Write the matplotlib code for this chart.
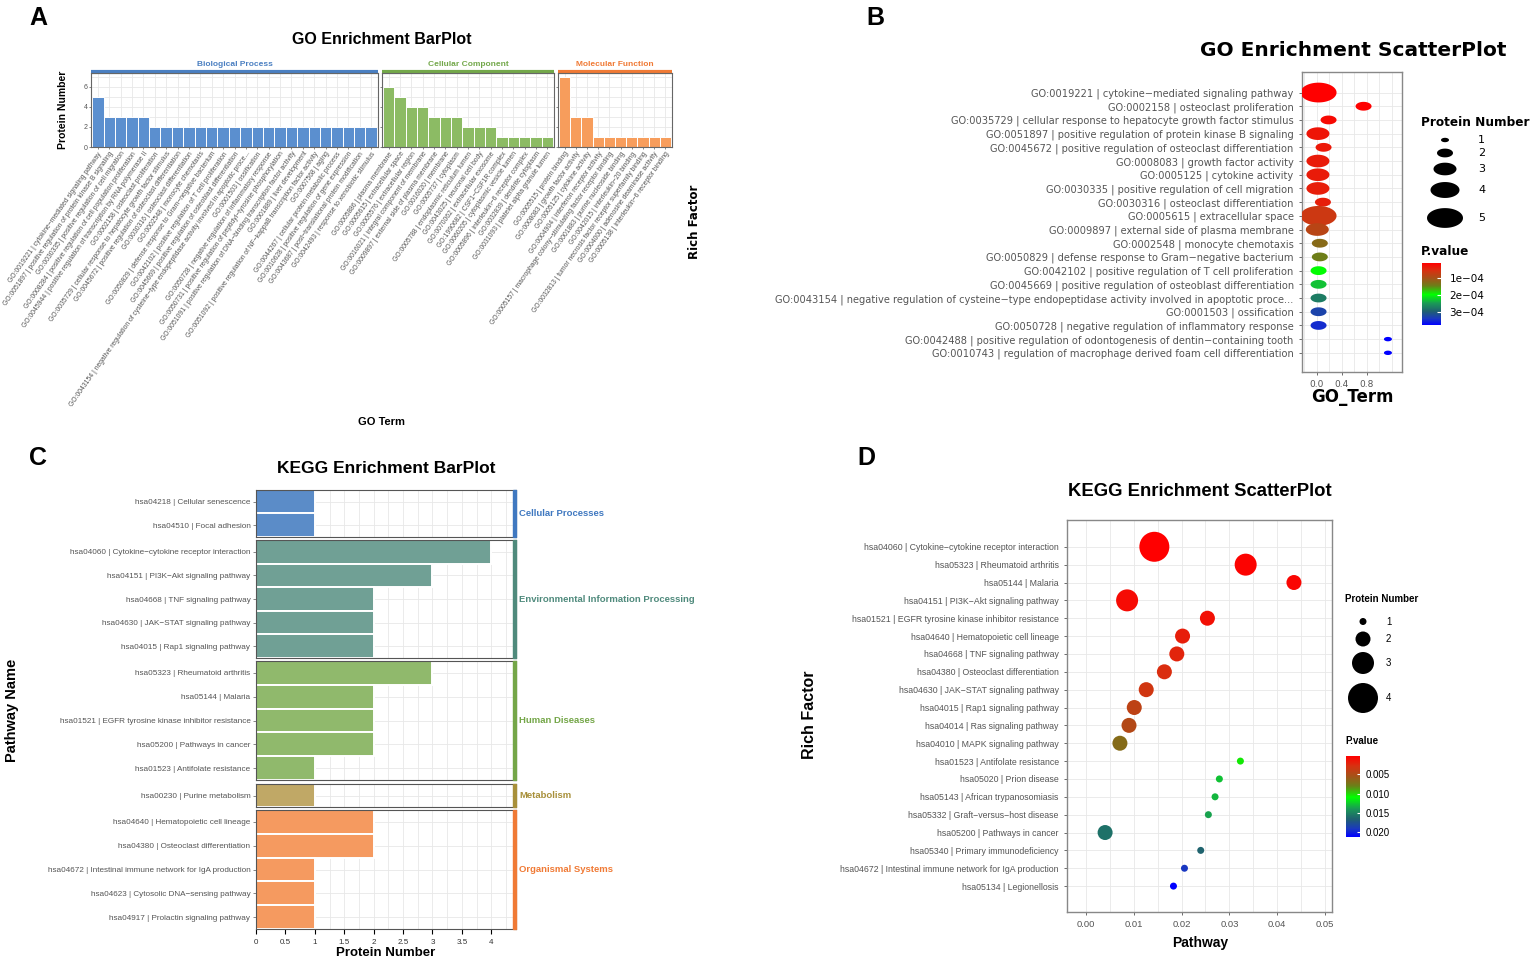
import numpy as np
import matplotlib.pyplot as plt
import matplotlib.cm as cm
from matplotlib.colors import LinearSegmentedColormap, Normalize
from matplotlib.path import Path
from matplotlib.patches import Rectangle

plt.rcParams['font.family'] = ['Liberation Sans', 'DejaVu Sans']

# ---------------- data: panel A (GO bar plot) ----------------
bp_terms = ['GO:0019221 | cytokine−mediated signaling pathway',
            'GO:0051897 | positive regulation of protein kinase B signaling',
            'GO:0030335 | positive regulation of cell migration',
            'GO:0008284 | positive regulation of cell population proliferation',
            'GO:0045944 | positive regulation of transcription by RNA polymerase II',
            'GO:0002158 | osteoclast proliferation',
            'GO:0035729 | cellular response to hepatocyte growth factor stimulus',
            'GO:0045672 | positive regulation of osteoclast differentiation',
            'GO:0030316 | osteoclast differentiation',
            'GO:0002548 | monocyte chemotaxis',
            'GO:0050829 | defense response to Gram−negative bacterium',
            'GO:0042102 | positive regulation of T cell proliferation',
            'GO:0045669 | positive regulation of osteoblast differentiation',
            'GO:0043154 | negative regulation of cysteine−type endopeptidase activity involved in apoptotic proce...',
            'GO:0001503 | ossification',
            'GO:0050728 | negative regulation of inflammatory response',
            'GO:0050731 | positive regulation of peptidyl−tyrosine phosphorylation',
            'GO:0051091 | positive regulation of DNA−binding transcription factor activity',
            'GO:0001889 | liver development',
            'GO:0051092 | positive regulation of NF−kappaB transcription factor activity',
            'GO:0007568 | aging',
            'GO:0044267 | cellular protein metabolic process',
            'GO:0010628 | positive regulation of gene expression',
            'GO:0043687 | post−translational protein modification',
            'GO:0042493 | response to xenobiotic stimulus']
bp_counts = [5, 3, 3, 3, 3, 2, 2, 2, 2, 2, 2, 2, 2, 2, 2, 2, 2, 2, 2, 2, 2, 2, 2, 2, 2]

cc_terms = ['GO:0005886 | plasma membrane',
            'GO:0005615 | extracellular space',
            'GO:0005576 | extracellular region',
            'GO:0016021 | integral component of membrane',
            'GO:0009897 | external side of plasma membrane',
            'GO:0016020 | membrane',
            'GO:0005737 | cytoplasm',
            'GO:0005788 | endoplasmic reticulum lumen',
            'GO:0043025 | neuronal cell body',
            'GO:0070062 | extracellular exosome',
            'GO:1990682 | CSF1−CSF1R complex',
            'GO:0060205 | cytoplasmic vesicle lumen',
            'GO:0005896 | interleukin−6 receptor complex',
            'GO:0032839 | dendrite cytoplasm',
            'GO:0031093 | platelet alpha granule lumen']
cc_counts = [6, 5, 4, 4, 3, 3, 3, 2, 2, 2, 1, 1, 1, 1, 1]

mf_terms = ['GO:0005515 | protein binding',
            'GO:0008083 | growth factor activity',
            'GO:0005125 | cytokine activity',
            'GO:0004904 | interferon receptor activity',
            'GO:0005157 | macrophage colony−stimulating factor receptor binding',
            'GO:0001883 | purine nucleoside binding',
            'GO:0042015 | interleukin−20 binding',
            'GO:0032813 | tumor necrosis factor receptor superfamily binding',
            'GO:0004000 | adenosine deaminase activity',
            'GO:0005138 | interleukin−6 receptor binding']
mf_counts = [7, 3, 3, 1, 1, 1, 1, 1, 1, 1]

# ---------------- data: panel B (GO scatter) ----------------
go_terms = ['GO:0019221 | cytokine−mediated signaling pathway',
            'GO:0002158 | osteoclast proliferation',
            'GO:0035729 | cellular response to hepatocyte growth factor stimulus',
            'GO:0051897 | positive regulation of protein kinase B signaling',
            'GO:0045672 | positive regulation of osteoclast differentiation',
            'GO:0008083 | growth factor activity',
            'GO:0005125 | cytokine activity',
            'GO:0030335 | positive regulation of cell migration',
            'GO:0030316 | osteoclast differentiation',
            'GO:0005615 | extracellular space',
            'GO:0009897 | external side of plasma membrane',
            'GO:0002548 | monocyte chemotaxis',
            'GO:0050829 | defense response to Gram−negative bacterium',
            'GO:0042102 | positive regulation of T cell proliferation',
            'GO:0045669 | positive regulation of osteoblast differentiation',
            'GO:0043154 | negative regulation of cysteine−type endopeptidase activity involved in apoptotic proce...',
            'GO:0001503 | ossification',
            'GO:0050728 | negative regulation of inflammatory response',
            'GO:0042488 | positive regulation of odontogenesis of dentin−containing tooth',
            'GO:0010743 | regulation of macrophage derived foam cell differentiation']
go_rich = [0.03, 0.75, 0.19, 0.02, 0.11, 0.02, 0.02, 0.02, 0.10, 0.03,
           0.01, 0.05, 0.05, 0.03, 0.03, 0.03, 0.03, 0.03, 1.14, 1.14]
go_count = [5, 2, 2, 3, 2, 3, 3, 3, 2, 5, 3, 2, 2, 2, 2, 2, 2, 2, 1, 1]
go_pval = [1.0e-5, 1.2e-5, 2.0e-5, 3.0e-5, 3.2e-5, 3.5e-5, 3.6e-5, 3.8e-5, 4.0e-5, 6.5e-5,
           8.5e-5, 1.25e-4, 1.45e-4, 2.0e-4, 2.3e-4, 2.75e-4, 3.3e-4, 3.5e-4, 3.8e-4, 3.8e-4]

# ---------------- data: panel C (KEGG bar plot) ----------------
cp_terms = ['hsa04218 | Cellular senescence', 'hsa04510 | Focal adhesion']
cp_counts = [1, 1]
eip_terms = ['hsa04060 | Cytokine−cytokine receptor interaction',
             'hsa04151 | PI3K−Akt signaling pathway',
             'hsa04668 | TNF signaling pathway',
             'hsa04630 | JAK−STAT signaling pathway',
             'hsa04015 | Rap1 signaling pathway']
eip_counts = [4, 3, 2, 2, 2]
hd_terms = ['hsa05323 | Rheumatoid arthritis',
            'hsa05144 | Malaria',
            'hsa01521 | EGFR tyrosine kinase inhibitor resistance',
            'hsa05200 | Pathways in cancer',
            'hsa01523 | Antifolate resistance']
hd_counts = [3, 2, 2, 2, 1]
met_terms = ['hsa00230 | Purine metabolism']
met_counts = [1]
os_terms = ['hsa04640 | Hematopoietic cell lineage',
            'hsa04380 | Osteoclast differentiation',
            'hsa04672 | Intestinal immune network for IgA production',
            'hsa04623 | Cytosolic DNA−sensing pathway',
            'hsa04917 | Prolactin signaling pathway']
os_counts = [2, 2, 1, 1, 1]

# ---------------- data: panel D (KEGG scatter) ----------------
kegg_terms = ['hsa04060 | Cytokine−cytokine receptor interaction',
              'hsa05323 | Rheumatoid arthritis',
              'hsa05144 | Malaria',
              'hsa04151 | PI3K−Akt signaling pathway',
              'hsa01521 | EGFR tyrosine kinase inhibitor resistance',
              'hsa04640 | Hematopoietic cell lineage',
              'hsa04668 | TNF signaling pathway',
              'hsa04380 | Osteoclast differentiation',
              'hsa04630 | JAK−STAT signaling pathway',
              'hsa04015 | Rap1 signaling pathway',
              'hsa04014 | Ras signaling pathway',
              'hsa04010 | MAPK signaling pathway',
              'hsa01523 | Antifolate resistance',
              'hsa05020 | Prion disease',
              'hsa05143 | African trypanosomiasis',
              'hsa05332 | Graft−versus−host disease',
              'hsa05200 | Pathways in cancer',
              'hsa05340 | Primary immunodeficiency',
              'hsa04672 | Intestinal immune network for IgA production',
              'hsa05134 | Legionellosis']
kegg_rich = [0.0143, 0.0334, 0.0435, 0.0086, 0.0254, 0.0202, 0.0190, 0.0164, 0.0126, 0.0101,
             0.0090, 0.0071, 0.0323, 0.0279, 0.0270, 0.0256, 0.0040, 0.0240, 0.0206, 0.0183]
kegg_count = [4, 3, 2, 3, 2, 2, 2, 2, 2, 2, 2, 2, 1, 1, 1, 1, 2, 1, 1, 1]
kegg_pval = [0.0002, 0.0004, 0.0006, 0.0008, 0.0011, 0.0018, 0.0021, 0.0026, 0.0032, 0.0042,
             0.0047, 0.0068, 0.0105, 0.0128, 0.0131, 0.0137, 0.0158, 0.0165, 0.0192, 0.0213]

# ---------------- helpers ----------------
W, H = 1535, 963


def box(x0, y0, x1, y1):
    # pixel rectangle (top-left origin) -> figure fraction rect
    return [x0 / W, 1 - y1 / H, (x1 - x0) / W, (y1 - y0) / H]


def ftext(x, y, s, **kw):
    fig.text(x / W, 1 - y / H, s, **kw)


pcmap = LinearSegmentedColormap.from_list('pv', [
    (0.0, '#ff0000'), (0.12, '#d83010'), (0.24, '#a85018'), (0.37, '#6a8018'),
    (0.51, '#00ff00'), (0.65, '#1a9a55'), (0.78, '#1f6070'), (0.9, '#1a38c0'),
    (1.0, '#0000ff')])

grid_c = '#e8e8e8'
tick_c = '#333333'

fig = plt.figure(figsize=(15.35, 9.63), dpi=100)

# panel letters
for lx, ly, lt in [(38, 18, 'A'), (875, 18, 'B'), (38, 458, 'C'), (866, 458, 'D')]:
    ftext(lx, ly, lt, fontsize=18, fontweight='bold', ha='center', va='center')

# ================= Panel A =================
ftext(382, 40, 'GO Enrichment BarPlot', fontsize=11.5, fontweight='bold', ha='center', va='center')
a_sets = [('Biological Process', bp_terms, bp_counts, '#5b8fcf', '#4a7fc1', 91, 378),
          ('Cellular Component', cc_terms, cc_counts, '#8cbb64', '#73a84a', 382, 554),
          ('Molecular Function', mf_terms, mf_counts, '#f79d5c', '#f07a35', 558, 672)]
for i, (name, terms, counts, fill, scol, x0, x1) in enumerate(a_sets):
    ax = fig.add_axes(box(x0, 73, x1, 147))
    x = np.arange(len(counts))
    ax.bar(x, counts, width=1, color=fill, edgecolor='white', linewidth=0.7, zorder=2)
    ax.set_xlim(-0.6, len(counts) - 0.4)
    ax.set_ylim(0, 7.35)
    ax.set_xticks(x)
    ax.set_xticklabels(terms, rotation=55, ha='right', va='top', rotation_mode='anchor',
                       fontsize=4.9, color=tick_c)
    ax.set_yticks([0, 2, 4, 6])
    ax.set_yticks([1, 3, 5, 7], minor=True)
    if i == 0:
        ax.set_yticklabels(['0', '2', '4', '6'], fontsize=5, color=tick_c)
    else:
        ax.set_yticklabels([])
        ax.tick_params(axis='y', which='both', length=0)
    ax.grid(which='both', color=grid_c, lw=0.6)
    ax.set_axisbelow(True)
    ax.tick_params(axis='both', length=1.5, width=0.5, pad=1, colors='#555555')
    ax.tick_params(axis='y', which='minor', length=0)
    for sp in ax.spines.values():
        sp.set_color('#666666')
        sp.set_linewidth(0.8)
    ax.plot([0, 1], [1.02, 1.02], transform=ax.transAxes, color=scol, lw=3,
            clip_on=False, solid_capstyle='butt')
    ftext((x0 + x1) / 2, 64, name, fontsize=6, fontweight='bold', color=scol,
          ha='center', va='center')
ftext(63, 110, 'Protein Number', fontsize=7.5, fontweight='bold', rotation=90,
      ha='center', va='center')
ftext(382, 422, 'GO Term', fontsize=8, fontweight='bold', ha='center', va='center')

# ================= Panel B =================
bfont = ['DejaVu Sans']
ftext(1353, 50, 'GO Enrichment ScatterPlot', fontsize=14.5, fontweight='bold',
      ha='center', va='center', family=bfont)
axb = fig.add_axes(box(1302, 72, 1402, 372))
theta = np.linspace(0, 2 * np.pi, 64)
ell = Path(np.column_stack([np.cos(theta), 0.55 * np.sin(theta)]), closed=True)
b_w = {1: 8, 2: 16, 3: 23, 4: 29, 5: 36}
norm_b = Normalize(vmin=1e-5, vmax=3.8e-4)
yb = np.arange(len(go_terms))
axb.scatter(go_rich, yb, s=[(b_w[c] * 0.72) ** 2 for c in go_count], c=go_pval,
            cmap=pcmap, norm=norm_b, marker=ell, linewidths=0, zorder=3)
axb.set_xlim(-0.235, 1.365)
axb.set_ylim(len(go_terms) - 1 + 1.4, -1.5)
axb.set_yticks(yb)
axb.set_yticklabels(go_terms, fontsize=7.1, family=bfont, color='#111111')
axb.set_xticks([0, 0.4, 0.8])
axb.set_xticklabels(['0.0', '0.4', '0.8'], fontsize=6.5, family=bfont, color='#333333')
axb.set_xticks([-0.2, 0.2, 0.6, 1.0, 1.2], minor=True)
axb.grid(which='both', color=grid_c, lw=0.6)
axb.set_axisbelow(True)
axb.tick_params(axis='both', length=2.5, width=0.6, colors='#555555')
axb.tick_params(which='minor', length=0)
for sp in axb.spines.values():
    sp.set_color('#888888')
    sp.set_linewidth(1)
ftext(695, 222, 'Rich Factor', fontsize=8.5, fontweight='bold', rotation=90,
      ha='center', va='center', family=bfont)
ftext(1352, 397, 'GO_Term', fontsize=12, fontweight='bold', ha='center', va='center',
      family=bfont)

# size legend
ftext(1421, 123, 'Protein Number', fontsize=8.7, fontweight='bold', ha='left', va='center',
      family=bfont)
lgb = fig.add_axes(box(1420, 130, 1500, 232))
lgb.set_xlim(1420, 1500)
lgb.set_ylim(232, 130)
lgb.axis('off')
b_leg_n = [1, 2, 3, 4, 5]
b_leg_y = [140, 153, 169, 190, 218]
lgb.scatter([1445] * 5, b_leg_y, s=[(b_w[n] * 0.72) ** 2 for n in b_leg_n], c='black',
            marker=ell, linewidths=0)
for n, yy in zip(b_leg_n, b_leg_y):
    lgb.text(1478, yy, str(n), fontsize=8, ha='left', va='center', family=bfont)

# color legend
ftext(1421, 251, 'P.value', fontsize=8.7, fontweight='bold', ha='left', va='center',
      family=bfont)
caxb = fig.add_axes(box(1422, 263, 1441, 325))
cbb = fig.colorbar(cm.ScalarMappable(norm=norm_b, cmap=pcmap), cax=caxb)
cbb.outline.set_visible(False)
caxb.invert_yaxis()
cbb.set_ticks([1e-4, 2e-4, 3e-4])
cbb.set_ticklabels(['1e−04', '2e−04', '3e−04'])
caxb.tick_params(length=3, color='white', direction='in', labelsize=7.5, pad=6)
for lab in caxb.get_yticklabels():
    lab.set_family(bfont)

# ================= Panel C =================
ftext(386, 468, 'KEGG Enrichment BarPlot', fontsize=12.5, fontweight='bold',
      ha='center', va='center')
c_sets = [('Cellular Processes', cp_terms, cp_counts, '#5b8cc8', '#3f78c0', 490, 537),
          ('Environmental Information Processing', eip_terms, eip_counts, '#70a095', '#4f8a7c', 540, 658),
          ('Human Diseases', hd_terms, hd_counts, '#90b96c', '#74a648', 661, 780),
          ('Metabolism', met_terms, met_counts, '#c0a866', '#a8903a', 784, 807),
          ('Organismal Systems', os_terms, os_counts, '#f59a60', '#f07a35', 810, 929)]
for i, (name, terms, counts, fill, scol, y0, y1) in enumerate(c_sets):
    ax = fig.add_axes(box(256, y0, 516, y1))
    y = np.arange(len(counts))
    ax.barh(y, counts, height=1, color=fill, edgecolor='white', linewidth=1.4, zorder=2)
    ax.set_ylim(len(counts) - 0.5, -0.5)
    ax.set_xlim(0, 4.42)
    ax.set_yticks(y)
    ax.set_yticklabels(terms, fontsize=5.9, color='#222222')
    ax.set_xticks(np.arange(0, 4.01, 0.5))
    ax.set_xticks(np.arange(0.25, 4.4, 0.5), minor=True)
    if i == len(c_sets) - 1:
        ax.set_xticklabels(['0', '0.5', '1', '1.5', '2', '2.5', '3', '3.5', '4'],
                           fontsize=5.8, color='#333333')
    else:
        ax.set_xticklabels([])
        ax.tick_params(axis='x', length=0)
    ax.grid(which='both', color=grid_c, lw=0.6)
    ax.set_axisbelow(True)
    ax.tick_params(axis='y', length=2, width=0.5, pad=2, colors='#555555')
    ax.tick_params(axis='x', which='minor', length=0)
    for sp in ax.spines.values():
        sp.set_color('#555555')
        sp.set_linewidth(0.8)
    ax.add_patch(Rectangle((0.988, 0), 0.012, 1, transform=ax.transAxes, color=scol,
                           zorder=4, clip_on=False))
    ftext(519, (y0 + y1) / 2, name, fontsize=6.8, fontweight='bold', color=scol,
          ha='left', va='center')
ftext(12, 710, 'Pathway Name', fontsize=10.5, fontweight='bold', rotation=90,
      ha='center', va='center')
ftext(386, 953, 'Protein Number', fontsize=9.5, fontweight='bold', ha='center', va='center')

# ================= Panel D =================
ftext(1200, 492, 'KEGG Enrichment ScatterPlot', fontsize=13.3, fontweight='bold',
      ha='center', va='center')
axd = fig.add_axes(box(1067, 520, 1332, 912))
d_w = {1: 7, 2: 15, 3: 22, 4: 30}
norm_d = Normalize(vmin=0.0002, vmax=0.0213)
yd = np.arange(len(kegg_terms))
axd.scatter(kegg_rich, yd, s=[(d_w[c] * 0.72) ** 2 for c in kegg_count], c=kegg_pval,
            cmap=pcmap, norm=norm_d, linewidths=0, zorder=3)
axd.set_xlim(-0.00397, 0.05146)
axd.set_ylim(len(kegg_terms) - 1 + 1.45, -1.5)
axd.set_yticks(yd)
axd.set_yticklabels(kegg_terms, fontsize=6.3, color='#222222')
axd.set_xticks([0, 0.01, 0.02, 0.03, 0.04, 0.05])
axd.set_xticklabels(['0.00', '0.01', '0.02', '0.03', '0.04', '0.05'], fontsize=6.8,
                    color='#333333')
axd.set_xticks([0.005, 0.015, 0.025, 0.035, 0.045], minor=True)
axd.grid(which='both', color=grid_c, lw=0.6)
axd.set_axisbelow(True)
axd.tick_params(axis='both', length=2.5, width=0.6, colors='#555555')
axd.tick_params(which='minor', length=0)
for sp in axd.spines.values():
    sp.set_color('#888888')
    sp.set_linewidth(1)
ftext(810, 715, 'Rich Factor', fontsize=11.5, fontweight='bold', rotation=90,
      ha='center', va='center')
ftext(1200, 943, 'Pathway', fontsize=10, fontweight='bold', ha='center', va='center')

ftext(1345, 599, 'Protein Number', fontsize=7, fontweight='bold', ha='left', va='center')
lgd = fig.add_axes(box(1340, 610, 1420, 720))
lgd.set_xlim(1340, 1420)
lgd.set_ylim(720, 610)
lgd.axis('off')
d_leg_n = [1, 2, 3, 4]
d_leg_y = [621.5, 639, 663, 698]
lgd.scatter([1363] * 4, d_leg_y, s=[(d_w[n] * 0.72) ** 2 for n in d_leg_n], c='black',
            linewidths=0)
for n, yy in zip(d_leg_n, d_leg_y):
    lgd.text(1386, yy, str(n), fontsize=7, ha='left', va='center')

ftext(1345, 741, 'P.value', fontsize=7, fontweight='bold', ha='left', va='center')
caxd = fig.add_axes(box(1346, 756, 1360, 837))
cbd = fig.colorbar(cm.ScalarMappable(norm=norm_d, cmap=pcmap), cax=caxd)
cbd.outline.set_visible(False)
caxd.invert_yaxis()
cbd.set_ticks([0.005, 0.010, 0.015, 0.020])
cbd.set_ticklabels(['0.005', '0.010', '0.015', '0.020'])
caxd.tick_params(length=2.5, color='white', direction='in', labelsize=7, pad=4)

fig.savefig('out.png', dpi=100)
